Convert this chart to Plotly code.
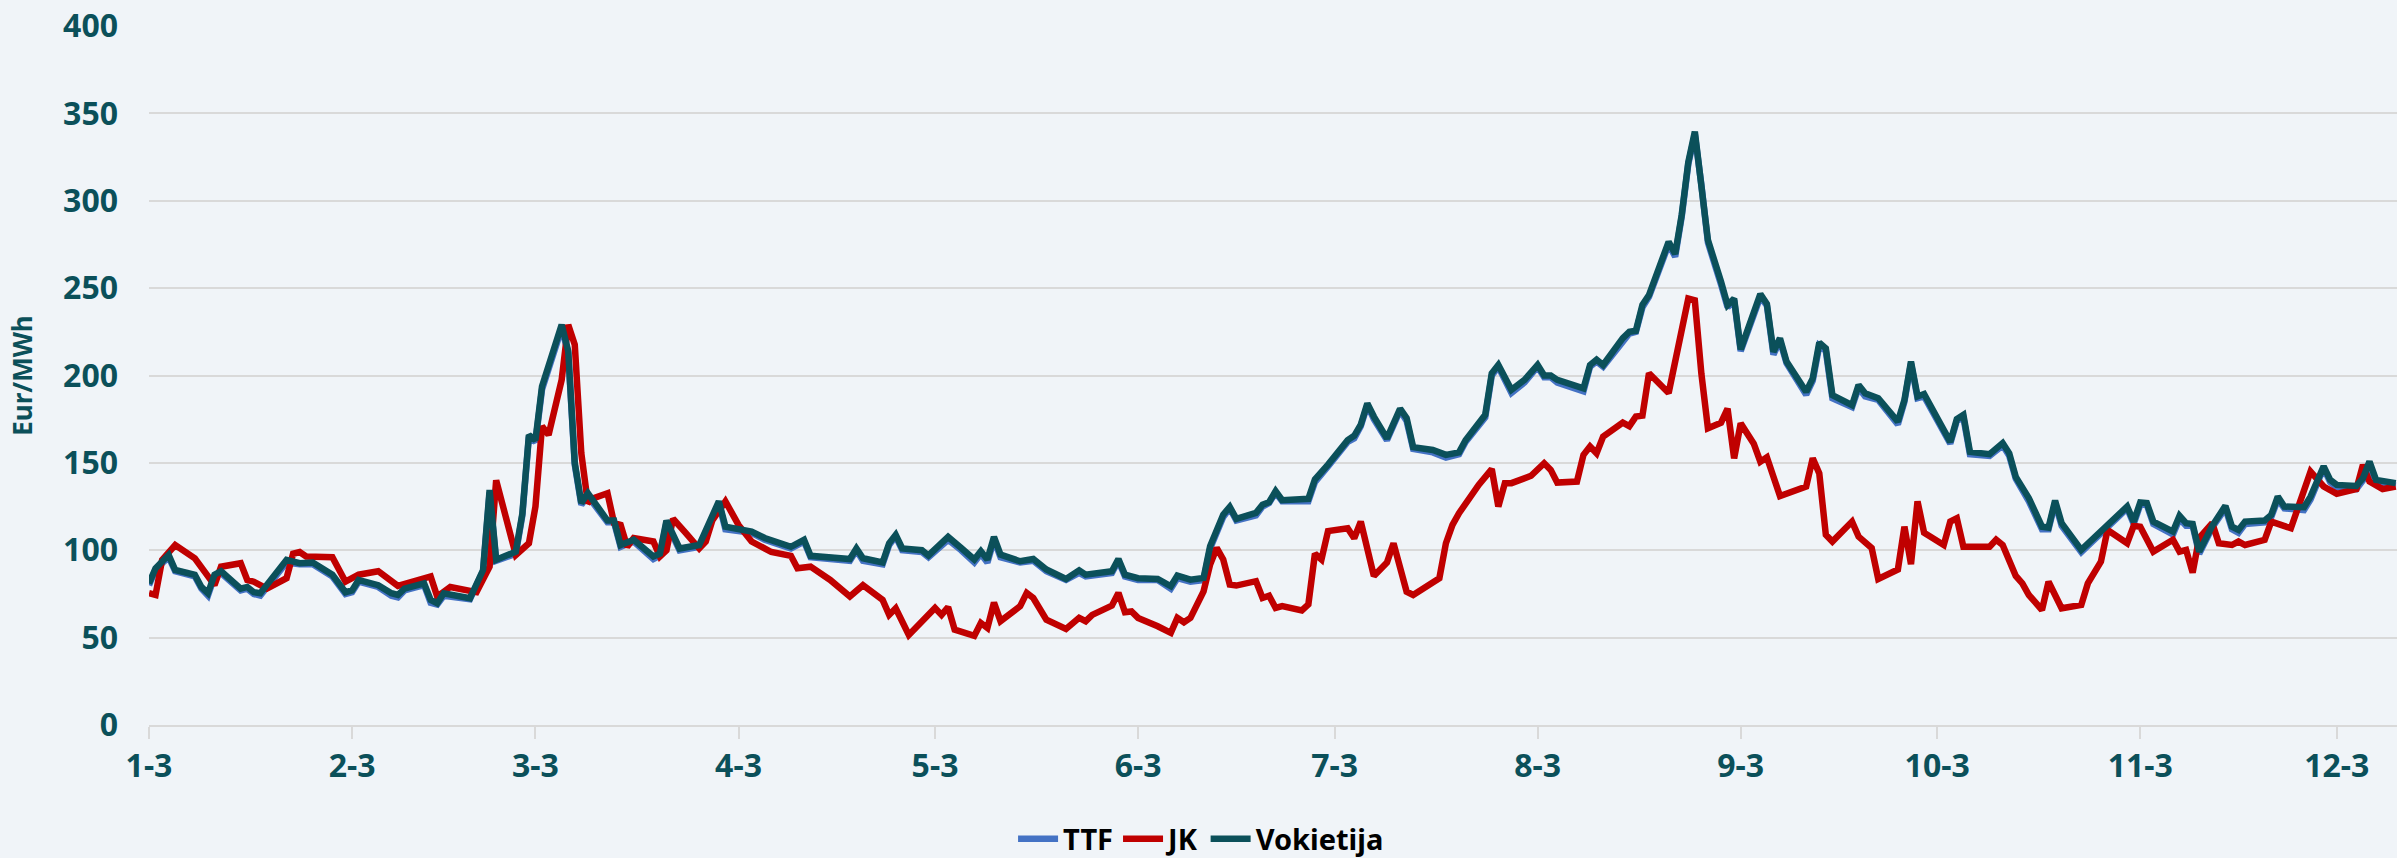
import pandas as pd
import plotly.graph_objects as go

START = "2022-01-03"

# Vokietija (Germany) - day offset from 2022-01-03 and price, Eur/MWh
vok_day = [0, 1, 3, 4, 7, 8, 9, 10, 11, 14,
           15, 16, 17, 21, 23, 25, 28, 30, 31, 32,
           35, 37, 38, 39, 42, 43, 44, 45, 49, 51,
           52, 53, 56, 57, 58, 59, 60, 63, 64, 65,
           66, 67, 70, 71, 72, 74, 77, 78, 79, 81,
           84, 86, 87, 88, 92, 94, 98, 100, 101, 107,
           108, 109, 112, 113, 114, 115, 118, 119, 122, 124,
           126, 127, 128, 129, 130, 133, 135, 137, 140, 142,
           143, 147, 148, 149, 151, 154, 156, 157, 159, 161,
           162, 164, 165, 166, 169, 170, 171, 172, 173, 177,
           178, 180, 183, 184, 185, 186, 187, 189, 191, 192,
           193, 196, 198, 200, 201, 204, 205, 206, 208, 210,
           212, 213, 214, 215, 219, 220, 221, 222, 224, 225,
           226, 227, 228, 229, 232, 233, 234, 235, 236, 237,
           238, 240, 241, 242, 243, 246, 247, 248, 249, 250,
           253, 254, 255, 256, 257, 260, 261, 262, 264, 267,
           268, 269, 270, 271, 275, 276, 277, 278, 281, 283,
           284, 285, 287, 289, 290, 291, 292, 295, 299, 302,
           303, 304, 305, 306, 309, 310, 311, 312, 313, 315,
           317, 318, 319, 320, 323, 324, 325, 326, 329, 330,
           332, 333, 334, 337, 338, 339, 340, 343]
vok_val = [81, 89.7, 97.3, 88.7, 85.9, 79, 75.4, 86, 88, 78,
           79, 76, 75.4, 94.5, 92.6, 93, 86, 76, 77, 83,
           80, 75.4, 74.4, 78, 81, 71.6, 69.7, 75.4, 72.5, 88.7,
           134.5, 94.5, 99.2, 121, 166, 163, 193.7, 229, 214, 150,
           127, 132.6, 117, 117, 103, 106, 96.4, 98, 117, 101,
           103, 121, 128, 113.5, 110.7, 107, 102, 106, 96.8, 95,
           101, 95.4, 93, 104, 108.8, 101, 100, 97, 107.6, 101.3,
           94.7, 99.4, 94.7, 107.6, 97.5, 93.7, 95, 89, 83.6, 88.5,
           86, 88, 95, 86, 84, 83.6, 79.4, 85.5, 83.2, 84.2,
           102.3, 120.4, 124.8, 118, 121.4, 126, 127.5, 133.8, 128.6, 129.4,
           140.5, 149, 163, 165.5, 171.8, 184, 176.5, 164, 181, 175.6,
           159, 157.4, 154.6, 156, 163, 177.5, 201.3, 206, 191.8, 197.5,
           206, 200, 200, 197.5, 192.7, 206, 209, 206, 216.6, 221.4,
           225, 225.6, 240.5, 246, 276.5, 269.5, 292, 322, 339.5, 310,
           277.5, 253.7, 240.3, 244, 215, 246.6, 241, 213.6, 221.3, 208,
           190.7, 198.4, 218.8, 215.5, 188.8, 183, 194.6, 189.8, 187, 173.6,
           186, 208, 188, 189.4, 162, 175, 177.4, 156.3, 155, 161.3,
           155.5, 142, 129.8, 113.5, 113, 128.4, 115.5, 100.2, 114.5, 125,
           116.4, 127.3, 127, 116.4, 110.7, 119.7, 115.5, 115, 99.2, 114,
           125.4, 113.5, 111.6, 116.4, 117, 120.2, 130.7, 125, 124.6, 130.7,
           148, 140.3, 137.4, 136.8, 141.2, 150.8, 140.3, 138.4]

# TTF - same trading days as Vokietija, nearly identical prices
ttf_val = [80, 89, 96, 88, 85, 78, 74, 85, 87, 77,
           78, 75, 74, 93, 92, 92, 85, 75, 76, 82,
           79, 74, 73, 77, 80, 70, 69, 74, 72, 88,
           133, 94, 98, 120, 165, 162, 192, 227, 213, 149,
           126, 131, 116, 116, 102, 105, 95, 97, 116, 100,
           102, 120, 127, 112, 110, 106, 101, 105, 96, 94,
           100, 94, 92, 103, 108, 100, 99, 96, 106, 100,
           93, 98, 93, 106, 96, 93, 94, 88, 83, 87,
           85, 87, 94, 85, 83, 83, 78, 84, 82, 83,
           101, 119, 124, 117, 120, 125, 127, 133, 128, 128,
           139, 148, 162, 164, 171, 183, 175, 163, 180, 174,
           158, 156, 153, 155, 162, 176, 200, 205, 190, 196,
           205, 199, 199, 196, 191, 205, 208, 205, 215, 220,
           224, 225, 239, 245, 275, 268, 291, 321, 338, 309,
           276, 252, 239, 243, 214, 245, 240, 212, 220, 207,
           189, 197, 217, 214, 187, 182, 193, 188, 186, 172,
           185, 207, 187, 188, 161, 174, 176, 155, 154, 160,
           154, 141, 128, 112, 112, 127, 114, 99, 113, 124,
           115, 126, 126, 115, 109, 118, 114, 114, 98, 113,
           124, 112, 110, 115, 116, 119, 129, 124, 123, 129,
           147, 139, 136, 135, 140, 149, 139, 137]

# JK (United Kingdom)
jk_day = [0, 1, 2, 4, 7, 8, 10, 11, 14, 15,
          16, 18, 21, 22, 23, 24, 28, 30, 32, 35,
          38, 43, 44, 46, 50, 52, 53, 56, 58, 59,
          60, 61, 63, 64, 65, 66, 67, 68, 70, 71,
          72, 73, 74, 77, 78, 79, 80, 82, 84, 85,
          86, 88, 90, 92, 95, 98, 99, 101, 104, 107,
          109, 112, 113, 114, 116, 120, 121, 122, 123, 126,
          127, 128, 129, 130, 133, 134, 135, 137, 140, 142,
          143, 144, 147, 148, 149, 150, 151, 154, 156, 157,
          158, 159, 161, 162, 163, 164, 165, 166, 169, 170,
          171, 172, 173, 176, 177, 178, 179, 180, 183, 184,
          185, 187, 189, 190, 192, 193, 197, 198, 199, 200,
          203, 205, 206, 207, 208, 211, 213, 214, 215, 218,
          219, 220, 221, 222, 225, 226, 227, 228, 229, 232,
          235, 236, 237, 238, 240, 241, 242, 243, 245, 246,
          247, 249, 253, 254, 255, 256, 257, 260, 261, 263,
          264, 267, 268, 269, 270, 271, 274, 275, 276, 277,
          281, 282, 283, 285, 286, 287, 289, 290, 292, 295,
          296, 298, 299, 302, 303, 304, 306, 309, 310, 311,
          312, 313, 315, 316, 318, 319, 320, 323, 324, 327,
          328, 329, 330, 332, 334, 337, 338, 339, 341, 343]
jk_val = [75.4, 74.4, 94.5, 103, 95.4, 90.6, 80, 90.6, 92.6, 83,
          82, 78, 84, 98, 99, 96.4, 96, 82, 86, 88,
          79.6, 85, 73.5, 79, 76, 90.6, 140, 97.3, 104, 125,
          171, 166, 197.5, 229, 217.6, 155.5, 127, 130, 132.6, 115.5,
          114.5, 102, 107, 105, 96.4, 100, 118, 109.7, 101, 105,
          117, 128, 114.5, 105, 99, 96.8, 89.7, 90.6, 83, 73.5,
          80, 71.6, 63, 66.8, 51.5, 67, 63, 67.4, 54.6, 51,
          58.4, 55.5, 70, 59.4, 68, 75.6, 72.7, 60.3, 55, 61.3,
          59.4, 63, 68.3, 75.6, 64.5, 65, 61.3, 56.5, 52.7, 61.3,
          58.8, 61.3, 76.5, 91.8, 101.3, 94.7, 80.3, 79.8, 82.3, 72.7,
          74, 67, 68, 65.6, 69, 98, 94.7, 111, 112.6, 106.9,
          116.4, 85.3, 93, 104, 76.3, 74.4, 84, 104, 114.5, 121.2,
          137.4, 146.4, 125, 138.4, 138.4, 142.6, 149.8, 146, 138.7, 139.3,
          154.6, 159.4, 155.5, 165, 173, 171, 176.5, 177, 201.3, 190,
          244, 243, 201, 169.8, 173, 181, 152.6, 172.6, 161, 150.7,
          153.2, 131, 136.4, 152.6, 144, 108.8, 105, 116.4, 107.8, 101.3,
          83.6, 89, 113.5, 92, 128, 110, 103, 116.4, 118.3, 102,
          102, 106, 103, 85.3, 81, 74.4, 65.8, 82, 66.8, 68.7,
          81, 93.5, 111.6, 104, 114, 113.5, 99.2, 106, 99.2, 100.2,
          87.2, 107, 115.5, 104, 103, 105, 103, 106, 116.4, 112.6,
          124, 133.6, 145, 136.5, 132.3, 135, 148.8, 139.3, 135, 136.5]

assert len(vok_day) == len(vok_val) == len(ttf_val)
assert len(jk_day) == len(jk_val)

start = pd.Timestamp(START)
vok_x = start + pd.to_timedelta(vok_day, unit="D")
jk_x = start + pd.to_timedelta(jk_day, unit="D")

TEAL = "#0B505A"
RED = "#C00000"
BLUE = "#4472C4"
BG = "#F0F4F8"
GRID = "#D9D9D9"
FONT = "Noto Sans, Open Sans, sans-serif"
LW = 6.5

fig = go.Figure()
fig.add_trace(go.Scatter(x=vok_x, y=ttf_val, name="TTF", mode="lines",
                         line=dict(color=BLUE, width=LW)))
fig.add_trace(go.Scatter(x=jk_x, y=jk_val, name="JK", mode="lines",
                         line=dict(color=RED, width=LW)))
fig.add_trace(go.Scatter(x=vok_x, y=vok_val, name="Vokietija", mode="lines",
                         line=dict(color=TEAL, width=LW)))

x_end = start + pd.Timedelta(days=343.2)

fig.update_layout(
    width=2397, height=858,
    margin=dict(l=149, r=0, t=26, b=133, pad=0, autoexpand=False),
    paper_bgcolor=BG, plot_bgcolor=BG,
    font=dict(family=FONT, color=TEAL),
    showlegend=True,
    legend=dict(orientation="h", x=0.468, xanchor="center", y=-0.163, yanchor="middle",
                font=dict(family=FONT, size=29, color="#000000", weight="bold"),
                bgcolor="rgba(0,0,0,0)", itemwidth=40, tracegroupgap=0),
    xaxis=dict(type="date", range=[start, x_end], tick0=START, dtick="M1",
               tickformat="%-m-%-d", ticks="outside", ticklen=12, tickwidth=1.5,
               tickcolor=GRID, showline=True, linecolor=GRID, linewidth=2,
               showgrid=False, zeroline=False,
               tickfont=dict(family=FONT, size=32, color=TEAL, weight="bold")),
    yaxis=dict(range=[0, 400], dtick=50, showgrid=True, gridcolor=GRID, gridwidth=1.5,
               zeroline=False, showline=False, ticks="", ticklabelstandoff=30,
               tickfont=dict(family=FONT, size=32, color=TEAL, weight="bold")),
)
fig.update_yaxes(title=dict(text="Eur/MWh", standoff=22,
                            font=dict(family=FONT, size=26, color=TEAL, weight="bold")))

fig.write_html("out.html", config={"displayModeBar": False},
               post_script="document.body.style.margin='0';document.body.style.overflow='hidden';")
